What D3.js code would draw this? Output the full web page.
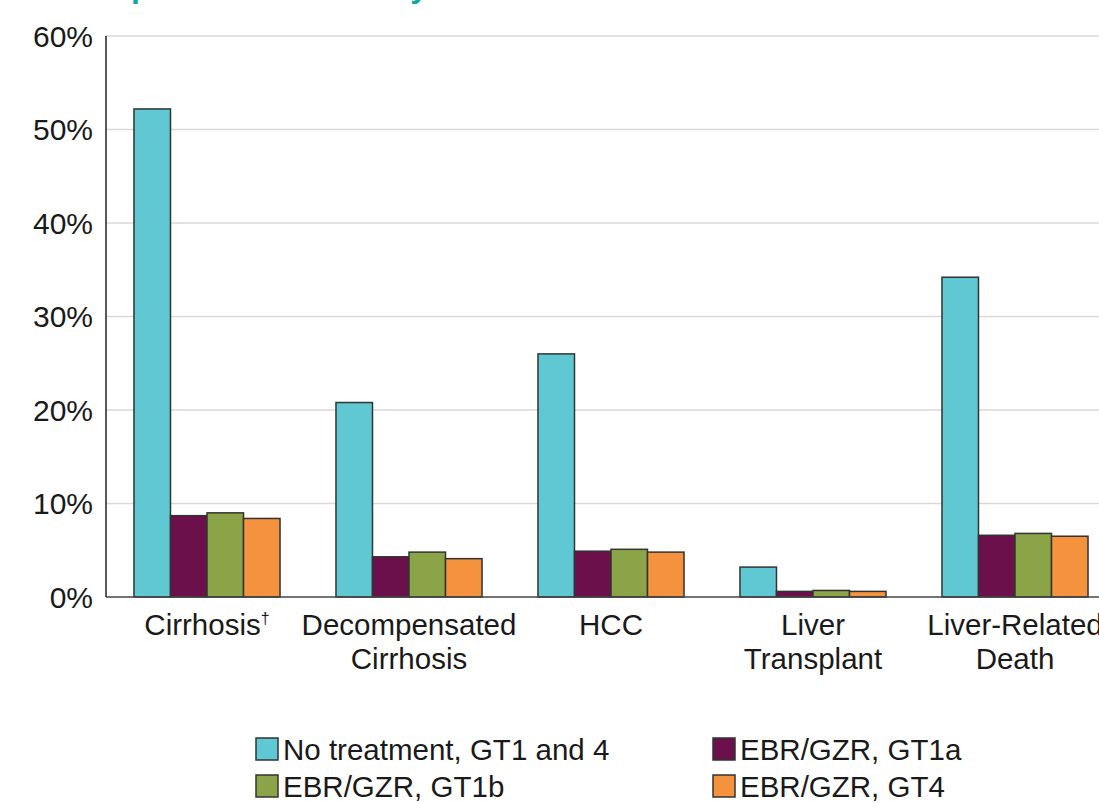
<!DOCTYPE html>
<html>
<head>
<meta charset="utf-8">
<script src="https://cdnjs.cloudflare.com/ajax/libs/d3/7.8.5/d3.min.js"></script>
<style>
  body { margin: 0; background: #fff; }
  text { font-family: "Liberation Sans", Arial, sans-serif; fill: #1a1a1a; }
</style>
</head>
<body>
<script>
// data
var categories = [["Cirrhosis", "\u2020"], ["Decompensated", "Cirrhosis"], ["HCC"], ["Liver", "Transplant"], ["Liver-Related", "Death"]];
var series = ["No treatment, GT1 and 4", "EBR/GZR, GT1a", "EBR/GZR, GT1b", "EBR/GZR, GT4"];
var noTreatment = [52.2, 20.8, 26.0, 3.2, 34.2];
var gt1a = [8.7, 4.3, 4.9, 0.6, 6.6];
var gt1b = [9.0, 4.8, 5.1, 0.7, 6.8];
var gt4 = [8.4, 4.1, 4.8, 0.6, 6.5];
var yTicks = [0, 10, 20, 30, 40, 50, 60];
var colors = ["#5fc8d3", "#6b104a", "#8ca448", "#f4923d"];

var allValues = [noTreatment, gt1a, gt1b, gt4];

var width = 1099, height = 803;
var svg = d3.select("body").append("svg")
    .attr("width", width)
    .attr("height", height);

// title, cut off by the top edge as in the source slide
svg.append("text")
    .attr("x", 60)
    .attr("y", -3)
    .style("font-size", "32px")
    .style("font-weight", "bold")
    .style("fill", "#10a89e")
    .text("Complications over 20 years with no treatment");

var x = d3.scaleBand()
    .domain(d3.range(categories.length))
    .range([106, 1116])
    .paddingInner(0.277)
    .paddingOuter(0.1385);

var x1 = d3.scaleBand()
    .domain(d3.range(series.length))
    .range([0, x.bandwidth()]);

var y = d3.scaleLinear()
    .domain([0, 60])
    .range([597, 36]);

// gridlines
svg.append("g").selectAll("line")
    .data(yTicks.filter(function(d) { return d > 0; }))
    .enter().append("line")
    .attr("x1", 106).attr("x2", width)
    .attr("y1", function(d) { return y(d); })
    .attr("y2", function(d) { return y(d); })
    .attr("stroke", "#d9d9d9")
    .attr("stroke-width", 1.5);

// y tick labels
svg.append("g").selectAll("text")
    .data(yTicks)
    .enter().append("text")
    .attr("x", 93)
    .attr("y", function(d) { return y(d); })
    .attr("dy", "0.36em")
    .attr("text-anchor", "end")
    .style("font-size", "30px")
    .text(function(d) { return d + "%"; });

// bars
var groups = svg.append("g").selectAll("g")
    .data(categories)
    .enter().append("g")
    .attr("transform", function(d, i) { return "translate(" + x(i) + ",0)"; });

groups.selectAll("rect")
    .data(function(d, i) { return allValues.map(function(s, k) { return { k: k, v: s[i] }; }); })
    .enter().append("rect")
    .attr("x", function(d) { return x1(d.k); })
    .attr("width", x1.bandwidth())
    .attr("y", function(d) { return y(d.v); })
    .attr("height", function(d) { return y(0) - y(d.v); })
    .attr("fill", function(d) { return colors[d.k]; })
    .attr("stroke", "#333")
    .attr("stroke-width", 1.5);

// axes lines
svg.append("line")
    .attr("x1", 106).attr("x2", width)
    .attr("y1", y(0)).attr("y2", y(0))
    .attr("stroke", "#444").attr("stroke-width", 1.5);
svg.append("line")
    .attr("x1", 106).attr("x2", 106)
    .attr("y1", y(60)).attr("y2", y(0))
    .attr("stroke", "#222").attr("stroke-width", 1.5);

// category labels
categories.forEach(function(c, i) {
    var cx = x(i) + x.bandwidth() / 2;
    var t = svg.append("text")
        .attr("x", cx)
        .attr("y", 635)
        .attr("text-anchor", "middle")
        .style("font-size", "29.5px");
    if (c[1] === "\u2020") {
        t.append("tspan").text(c[0]);
        t.append("tspan").attr("dy", -11).style("font-size", "16px").text(c[1]);
    } else {
        t.text(c[0]);
        if (c[1]) {
            svg.append("text")
                .attr("x", cx)
                .attr("y", 669)
                .attr("text-anchor", "middle")
                .style("font-size", "29.5px")
                .text(c[1]);
        }
    }
});

// legend
var legendX = [256, 713], legendY = [749, 786];
var legend = svg.append("g").selectAll("g")
    .data(series)
    .enter().append("g")
    .attr("transform", function(d, i) { return "translate(" + legendX[i % 2] + "," + legendY[Math.floor(i / 2)] + ")"; });

legend.append("rect")
    .attr("x", 0).attr("y", -11)
    .attr("width", 22).attr("height", 22)
    .attr("fill", function(d, i) { return colors[i]; })
    .attr("stroke", "#333")
    .attr("stroke-width", 1.5);

legend.append("text")
    .attr("x", 27)
    .attr("y", 0)
    .attr("dy", "0.36em")
    .style("font-size", "29.5px")
    .text(function(d) { return d; });
</script>
</body>
</html>
